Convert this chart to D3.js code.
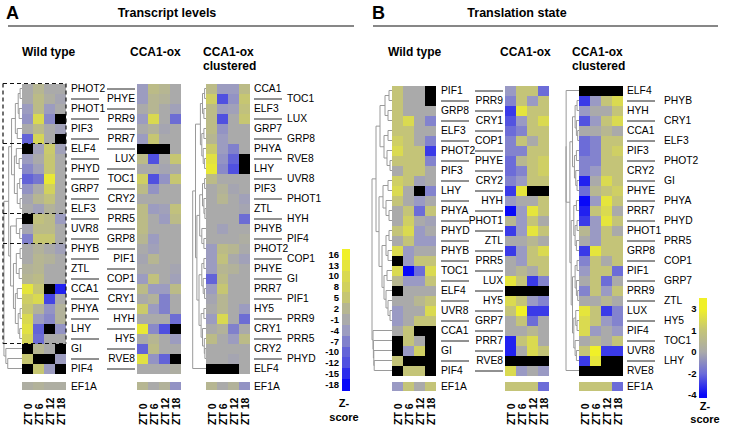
<!DOCTYPE html>
<html><head><meta charset="utf-8">
<script src="https://cdn.jsdelivr.net/npm/d3@7"></script>
<style>
body{margin:0;background:#fff;}
svg{display:block;font-family:"Liberation Sans",Arial,Helvetica,sans-serif;}
</style></head><body>
<svg id="chart" width="731" height="427"></svg>
<script>
// ---------------- DATA ----------------
const timepoints = ["ZT 0","ZT 6","ZT 12","ZT 18"];

// Panel A: transcript levels (Z-scores), rows in wild-type cluster order
const genesTranscript = ["PHOT2","PHYE","PHOT1","PRR9","PIF3","PRR7","ELF4","LUX","PHYD","TOC1","GRP7","CRY2","ELF3","PRR5","UVR8","GRP8","PHYB","PIF1","ZTL","COP1","CCA1","CRY1","PHYA","HYH","LHY","HY5","GI","RVE8","PIF4"];
const transcriptWT = [
 [-1,2,-1,-1],[-1,3,0,-2],[-4,3,-4,-1],[-5,10,-6,null],[-1,3,-1,-3],[-10,9,-1,null],
 [null,-3,6,-3],[-4,-1,5,-1],[-6,-3,5,-1],[-10,-8,14,-1],[-5,-1,8,-1],[-2,2,4,-1],[-1,-3,1,-1],
 [null,4,3,-4],[-2,3,3,-1],[-7,5,5,-1],
 [-1,1,-1,-3],[-1,2,1,-1],[1,2,-1,-1],[2,3,-1,-1],[13,5,null,-16],[7,10,-13,-1],[5,1,-5,1],[10,-4,-6,1],[12,-10,null,-5],[9,-9,-1,-1],
 [null,2,-1,null],[5,null,null,-4],[null,5,-4,null]
];
const transcriptCCA1ox = [
 [-4,3,2,-1],[-4,2,1,-1],[-1,2,-1,-3],[-4,10,-1,-9],[-1,1,-2,-1],[-4,5,-1,-1],
 [null,null,null,-1],[3,-12,-1,5],[-1,-1,-2,-1],[7,-12,-5,5],[3,-5,-1,-1],[-1,-1,-1,-1],[3,-4,-3,4],
 [3,-1,-4,3],[3,-1,-1,-1],[2,-4,-1,-1],
 [-1,-3,-1,-1],[-2,2,-1,-1],[-1,-1,-1,-2],[-4,4,-1,-3],[3,-4,-4,3],[-1,1,-7,-1],[6,-4,-7,-1],[-1,-1,-1,-9],[14,-6,-12,null],[-1,2,-1,-4],
 [-10,3,-1,-1],[12,-5,-10,null],[-1,-1,-1,0]
];
const transcriptEF1A_WT = [0,1,0,0];
const transcriptEF1A_CCA1ox = [2,-1,1,-5];
const genesTranscriptClustered = ["CCA1","TOC1","ELF3","LUX","GRP7","GRP8","PHYA","RVE8","LHY","UVR8","PIF3","PHOT1","ZTL","HYH","PHYB","PIF4","PHOT2","COP1","PHYE","GI","PRR7","PIF1","HY5","PRR9","CRY1","PRR5","CRY2","PHYD","ELF4"];
const legendTicksA = [16,13,10,8,5,2,-1,-4,-7,-10,-12,-15,-18];

// Panel B: translation state (Z-scores)
const genesTranslation = ["PIF1","PRR9","GRP8","CRY1","ELF3","COP1","PHOT2","PHYE","PIF3","CRY2","LHY","HYH","PHYA","PHOT1","PHYD","ZTL","PHYB","PRR5","TOC1","LUX","ELF4","HY5","UVR8","GRP7","CCA1","PRR7","GI","RVE8","PIF4"];
const translationWT = [
 [1,0,0,null],[1,0,0,null],[1,0,0,0],[1,2,0,-1.5],[1,1,0,0],[1.5,1,0,-1.5],[2,1,1,-3],[1,1,1,-1.5],
 [0,1,1,0],[1.5,1,-0.5,0],[2,0,null,-1.5],[1,0,-1,0],[0,1,-2,1],[0,1.5,0,-0.5],[1,2,-1,0],[0,1,-1,-1],
 [2,-1,0,0],[null,-1,1,1],[2,-4,-2,2],[0.5,-1,-1,1],[null,0,0,0],[0,0,0.5,1],[-1,0,0,2],[-1,0,1,1],
 [0,1,null,null],[null,1,0,null],[null,-1,1.5,null],[1,null,null,null],[null,1,1,null]
];
const translationCCA1ox = [
 [-1,1,1,-2],[-1.5,1,-1,1],[-3,2.5,1,1],[-2.5,-1,1,2],[-2,-1.5,1,1],[-1.5,1,0,1],[-1.5,-1.5,1,1],[-2,0.5,1,1.5],
 [-2,-1.5,1,1.5],[-1.5,-1,1,1],[-3,2.5,null,null],[-1,0,0,1],[-4,-1,2.5,1],[0.5,-1,1,0],[-3,-1,2.5,1],[0,0,0.5,0],
 [-3,-1,1,2],[0,-1,1,1],[0,0.5,0,1],[2.5,1,-3,-1.5],[null,null,null,null],[2,1,-1,-1.5],[1,3,-3,-3],[0,1,-2,0],
 [0,0,0.5,0],[-3.5,1,2,0],[-3.5,0,2,1],[null,null,null,null],[2,-1,0,-1]
];
const translationEF1A_WT = [-1,1,0,1];
const translationEF1A_CCA1ox = [1,1,1,-2];
const genesTranslationClustered = ["ELF4","PHYB","HYH","CRY1","CCA1","ELF3","PIF3","PHOT2","CRY2","GI","PHYE","PHYA","PRR7","PHYD","PHOT1","PRR5","GRP8","COP1","PIF1","GRP7","PRR9","ZTL","LUX","HY5","PIF4","TOC1","UVR8","LHY","RVE8"];
const legendTicksB = [3,1,0,-2,-4];

// Dendrogram topologies: [mergeHeight, left, right]; leaves are row indices
const c1 = [0.35,[0.2,[0.1,0,1],[0.15,2,3]],[0.25,4,5]];
const c2 = [0.4,[0.3,6,[0.15,7,8]],[0.25,[0.12,9,10],[0.1,11,12]]];
const c3 = [0.3,13,[0.12,14,15]];
const c4 = [0.45,[0.3,[0.1,16,17],[0.15,18,19]],[0.35,[0.25,20,21],[0.2,[0.1,22,23],[0.12,24,25]]]];
const treeTranscriptWT = [0.95,[0.7,[0.55,c1,c2],[0.6,c3,c4]],[0.85,26,[0.75,27,28]]];
const treeTranscriptClust = [0.95,[0.75,
  [0.4,[0.25,[0.1,0,1],[0.15,2,3]],[0.3,[0.15,4,5],[0.2,6,[0.1,7,8]]]],
  [0.65,[0.45,[0.25,[0.1,9,10],[0.15,11,[0.08,12,13]]],[0.3,14,[0.15,15,16]]],
        [0.5,[0.3,[0.15,17,18],[0.2,19,[0.1,20,21]]],[0.35,[0.15,22,23],[0.25,24,[0.12,25,[0.08,26,27]]]]]]],28];
const treeTranslationWT = [1.0,
  [0.8,[0.6,[0.35,[0.15,0,1],[0.2,2,3]],[0.4,[0.2,4,5],[0.25,6,[0.1,7,8]]]],
       [0.65,[0.45,[0.2,9,10],[0.3,11,[0.15,12,13]]],[0.5,[0.3,[0.15,14,15],[0.2,16,17]],[0.4,[0.25,18,19],[0.3,20,[0.2,21,[0.1,22,23]]]]]]],
  [0.95,24,[0.93,25,[0.91,26,[0.89,27,28]]]]];
const treeTranslationClust = [1.0,[0.99,0,
  [0.7,[0.5,[0.3,[0.15,1,2],[0.2,3,[0.1,4,5]]],[0.35,[0.2,6,7],[0.25,8,[0.15,9,10]]]],
       [0.6,[0.4,[0.2,11,12],[0.3,[0.15,13,14],[0.2,15,16]]],[0.5,[0.3,[0.15,17,18],[0.2,19,[0.1,20,21]]],[0.4,[0.25,22,[0.15,23,24]],[0.3,25,[0.2,26,27]]]]]]],28];

// ---------------- DRAW ----------------
const svg = d3.select("#chart");
const colorA = d3.scaleLinear().domain([-18,-12,-4,-1,2,5,16])
  .range(["#0808f8","#5050e0","#9c9cc0","#aaaaaa","#b6b692","#c6c672","#f0f028"]).clamp(true);
const colorB = d3.scaleLinear().domain([-4,-2,-1,0,1,3])
  .range(["#0808f8","#6c6cd8","#9a9ac4","#aaaaaa","#c4c478","#f0f028"]).clamp(true);
const byGene = (genes, vals) => new Map(genes.map((g,i)=>[g, vals[i]]));
const FS = 10.3;

function heatmap(x0, top, rows, color) {
  const xs = d3.scaleBand().domain(timepoints).range([x0, x0+44]);
  const ys = d3.scaleBand().domain(d3.range(rows.length)).range([top, top+rows.length*10]);
  const g = svg.append("g").attr("shape-rendering","crispEdges");
  g.selectAll("g").data(rows).join("g")
   .selectAll("rect").data((r,i)=>r.map((v,j)=>({v,i,j}))).join("rect")
   .attr("x", d=>xs(timepoints[d.j])).attr("y", d=>ys(d.i))
   .attr("width", xs.bandwidth()).attr("height", ys.bandwidth())
   .attr("fill", d=> d.v==null ? "#000" : color(d.v));
  return {xs, ys};
}
function ef1a(xs, y, vals, color, labelX) {
  svg.append("g").attr("shape-rendering","crispEdges").selectAll("rect").data(vals).join("rect")
    .attr("x",(d,j)=>xs(timepoints[j])).attr("y",y).attr("width",xs.bandwidth()).attr("height",8.5)
    .attr("fill",d=>color(d));
  if (labelX!=null) svg.append("text").attr("x",labelX).attr("y",y+4.5).attr("dy","0.35em")
    .attr("font-size",FS).text("EF1A");
}
function ztLabels(xs) {
  svg.append("g").selectAll("text").data(timepoints).join("text")
    .attr("transform", d=>`translate(${xs(d)+xs.bandwidth()/2+4},425) rotate(-90)`)
    .attr("font-size",10.5).attr("font-weight","bold").text(d=>d);
}
function dendro(tree, xRight, width, ys) {
  const g = svg.append("g").attr("stroke","#9a9a9a").attr("fill","none").attr("stroke-width",1);
  (function rec(n){
    if (typeof n === "number") return {x:xRight, y:ys(n)+ys.bandwidth()/2};
    const [h,a,b] = n, A = rec(a), B = rec(b), x = xRight - h*width;
    g.append("path").attr("d",`M${A.x},${A.y}H${x}V${B.y}H${B.x}`);
    return {x, y:(A.y+B.y)/2};
  })(tree);
}
function pairLabels(genes, ys, leftX, lineLen, rightEnd) {
  const g = svg.append("g");
  genes.forEach((name,i)=>{
    const y = ys(i)+ys.bandwidth()/2;
    if (i%2===0) {
      g.append("text").attr("x",leftX).attr("y",y).attr("dy","0.35em").attr("font-size",FS).text(name);
      g.append("line").attr("x1",rightEnd-lineLen).attr("x2",rightEnd).attr("y1",y+0.5).attr("y2",y+0.5).attr("stroke","#222");
    } else {
      g.append("text").attr("x",rightEnd).attr("y",y).attr("dy","0.35em").attr("text-anchor","end").attr("font-size",FS).text(name);
      g.append("line").attr("x1",leftX).attr("x2",leftX+lineLen).attr("y1",y+0.5).attr("y2",y+0.5).attr("stroke","#222");
    }
  });
}
function clustLabels(genes, ys, leftX, lineLen, rightX) {
  const g = svg.append("g");
  genes.forEach((name,i)=>{
    const y = ys(i)+ys.bandwidth()/2;
    g.append("text").attr("x", i%2===0 ? leftX : rightX).attr("y",y).attr("dy","0.35em").attr("font-size",FS).text(name);
    if (i%2===1) g.append("line").attr("x1",leftX).attr("x2",leftX+lineLen).attr("y1",y+0.5).attr("y2",y+0.5).attr("stroke","#222");
  });
}
function header(letter, lx, title, tx, r1, r2) {
  svg.append("text").attr("x",lx).attr("y",19).attr("font-size",18).attr("font-weight","bold").text(letter);
  svg.append("text").attr("x",tx).attr("y",17).attr("text-anchor","middle").attr("font-size",12.5).attr("font-weight","bold").text(title);
  svg.append("line").attr("x1",r1).attr("x2",r2).attr("y1",26).attr("y2",26).attr("stroke","#111").attr("stroke-width",1.2);
}
function subtitle(x, lines) {
  lines.forEach((t,k)=> svg.append("text").attr("x",x).attr("y",56+k*14).attr("font-size",12).attr("font-weight","bold").text(t));
}

// ===== Panel A =====
header("A", 6, "Transcript levels", 167, 8, 354);
subtitle(22,["Wild type"]); subtitle(130,["CCA1-ox"]); subtitle(203,["CCA1-ox","clustered"]);
const aTop = 83.5;
const hA1 = heatmap(22, aTop, transcriptWT, colorA);
const hA2 = heatmap(137, aTop, transcriptCCA1ox, colorA);
const mapA = byGene(genesTranscript, transcriptCCA1ox);
const hA3 = heatmap(206, aTop, genesTranscriptClustered.map(g=>mapA.get(g)), colorA);
dendro(treeTranscriptWT, 22, 19, hA1.ys);
dendro(treeTranscriptClust, 206, 14, hA3.ys);
// dashed cluster boxes (shared edges drawn once)
const boxBounds = [0,6,13,16,26];
const dash = svg.append("g").attr("stroke","#111").attr("stroke-width",1.2).attr("stroke-dasharray","4,3").attr("fill","none");
dash.selectAll("line.h").data(boxBounds).join("line").attr("class","h")
  .attr("x1",3).attr("x2",66).attr("y1",d=>hA1.ys(0)+d*10).attr("y2",d=>hA1.ys(0)+d*10);
dash.selectAll("line.v").data([3,66]).join("line").attr("class","v")
  .attr("x1",d=>d).attr("x2",d=>d).attr("y1",hA1.ys(0)).attr("y2",hA1.ys(0)+26*10);
pairLabels(genesTranscript, hA1.ys, 71, 28, 135);
clustLabels(genesTranscriptClustered, hA3.ys, 254, 28, 287);
ef1a(hA1.xs, 381.5, transcriptEF1A_WT, colorA, 71);
ef1a(hA2.xs, 381.5, transcriptEF1A_CCA1ox, colorA, null);
ef1a(hA3.xs, 381.5, transcriptEF1A_CCA1ox, colorA, 254);
[hA1,hA2,hA3].forEach(h=>ztLabels(h.xs));
// legend A
const legA = d3.scaleBand().domain(legendTicksA).range([249,390]);
svg.append("g").attr("shape-rendering","crispEdges").selectAll("rect").data(legendTicksA).join("rect")
  .attr("x",342).attr("y",d=>legA(d)).attr("width",8).attr("height",legA.bandwidth()+0.5).attr("fill",d=>colorA(d));
svg.append("g").selectAll("text").data(legendTicksA).join("text")
  .attr("x",339).attr("y",d=>legA(d)+legA.bandwidth()/2).attr("dy","0.35em").attr("text-anchor","end")
  .attr("font-size",9.5).attr("font-weight","bold").text(d=>d);
svg.append("text").attr("x",344).attr("y",407).attr("text-anchor","middle").attr("font-size",11).attr("font-weight","bold").text("Z-");
svg.append("text").attr("x",344).attr("y",421).attr("text-anchor","middle").attr("font-size",11).attr("font-weight","bold").text("score");

// ===== Panel B =====
header("B", 372, "Translation state", 517, 373, 718);
subtitle(388,["Wild type"]); subtitle(500,["CCA1-ox"]); subtitle(572,["CCA1-ox","clustered"]);
const bTop = 85.5;
const hB1 = heatmap(392, bTop, translationWT, colorB);
const hB2 = heatmap(505, bTop, translationCCA1ox, colorB);
const mapB = byGene(genesTranslation, translationCCA1ox);
const hB3 = heatmap(579, bTop, genesTranslationClustered.map(g=>mapB.get(g)), colorB);
dendro(treeTranslationWT, 392, 20, hB1.ys);
dendro(treeTranslationClust, 579, 13, hB3.ys);
pairLabels(genesTranslation, hB1.ys, 441, 28, 503);
clustLabels(genesTranslationClustered, hB3.ys, 627, 28, 664);
ef1a(hB1.xs, 382, translationEF1A_WT, colorB, 441);
ef1a(hB2.xs, 382, translationEF1A_CCA1ox, colorB, null);
ef1a(hB3.xs, 382, translationEF1A_CCA1ox, colorB, 627);
[hB1,hB2,hB3].forEach(h=>ztLabels(h.xs));
// legend B (continuous gradient)
const legTop = 298, legBot = 398;
const legB = d3.scalePoint().domain(legendTicksB).range([309,395]);
const grad = svg.append("defs").append("linearGradient").attr("id","gradB").attr("x1",0).attr("x2",0).attr("y1",0).attr("y2",1);
legendTicksB.forEach(t=> grad.append("stop").attr("offset",(legB(t)-legTop)/(legBot-legTop)).attr("stop-color",colorB(t)));
svg.append("rect").attr("x",699).attr("y",legTop).attr("width",8).attr("height",legBot-legTop).attr("fill","url(#gradB)");
svg.append("g").selectAll("text").data(legendTicksB).join("text")
  .attr("x",696.5).attr("y",d=>legB(d)).attr("dy","0.35em").attr("text-anchor","end")
  .attr("font-size",9.5).attr("font-weight","bold").text(d=>d);
svg.append("text").attr("x",705).attr("y",410).attr("text-anchor","middle").attr("font-size",11).attr("font-weight","bold").text("Z-");
svg.append("text").attr("x",705).attr("y",423).attr("text-anchor","middle").attr("font-size",11).attr("font-weight","bold").text("score");
</script>
</body></html>
